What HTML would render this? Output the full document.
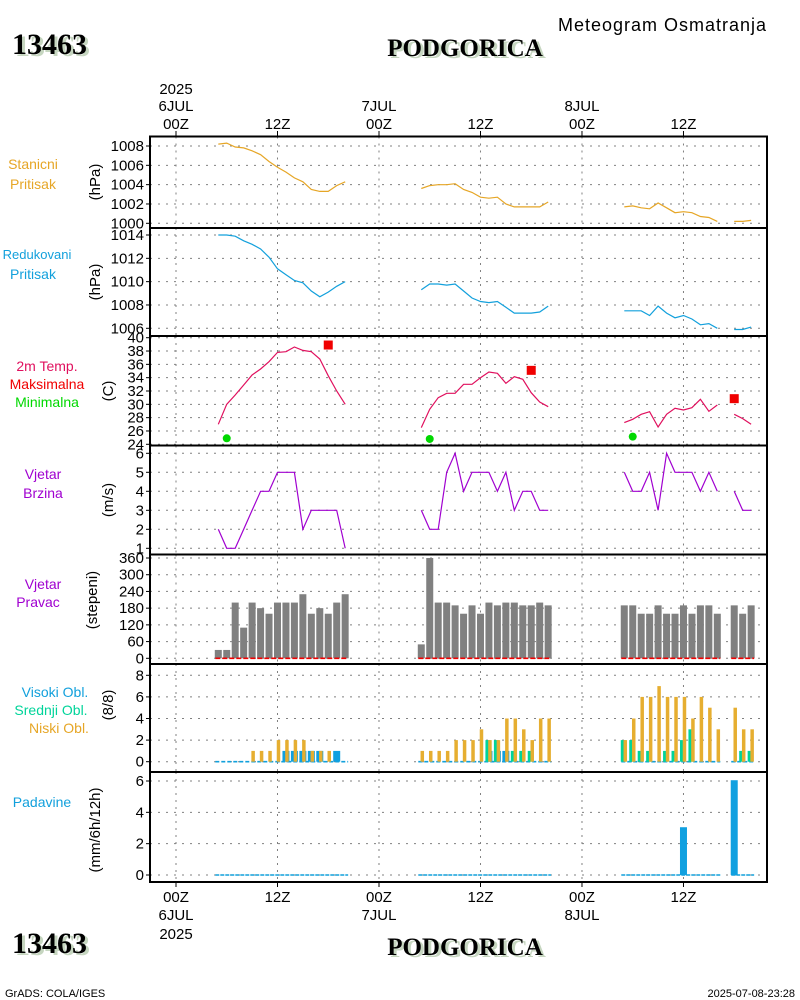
<!DOCTYPE html>
<html><head><meta charset="utf-8"><style>
html,body{margin:0;padding:0;background:#fff;}
svg{display:block;font-family:"Liberation Sans",sans-serif;}
</style></head><body>
<svg id="chart" width="800" height="1000" viewBox="0 0 800 1000" xmlns="http://www.w3.org/2000/svg">
<g>
<text x="15" y="56" font-family="Liberation Serif" font-weight="bold" font-size="30" fill="#c6d6c0">13463</text>
<text x="12" y="54" font-family="Liberation Serif" font-weight="bold" font-size="30" fill="#000">13463</text>
<text x="468" y="58" text-anchor="middle" font-family="Liberation Serif" font-weight="bold" font-size="25" fill="#c6d6c0">PODGORICA</text>
<text x="465" y="56" text-anchor="middle" font-family="Liberation Serif" font-weight="bold" font-size="25" fill="#000">PODGORICA</text>
<text x="558" y="31" font-size="18" letter-spacing="1" fill="#000">Meteogram Osmatranja</text>
</g>
<g>
<text x="15" y="955" font-family="Liberation Serif" font-weight="bold" font-size="30" fill="#c6d6c0">13463</text>
<text x="12" y="953" font-family="Liberation Serif" font-weight="bold" font-size="30" fill="#000">13463</text>
<text x="468" y="957" text-anchor="middle" font-family="Liberation Serif" font-weight="bold" font-size="25" fill="#c6d6c0">PODGORICA</text>
<text x="465" y="955" text-anchor="middle" font-family="Liberation Serif" font-weight="bold" font-size="25" fill="#000">PODGORICA</text>
<text x="5" y="997" font-size="11" fill="#000">GrADS: COLA/IGES</text>
<text x="795" y="997" text-anchor="end" font-size="11" fill="#000">2025-07-08-23:28</text>
</g>
<g id="grid"></g>
<g id="marks"></g>
<g id="frames"></g>
<g id="labels"></g>
</svg>
<script>
const hours = [5,6,7,8,9,10,11,12,13,14,15,16,17,18,19,20,
 29,30,31,32,33,34,35,36,37,38,39,40,41,42,43,44,
 53,54,55,56,57,58,59,60,61,62,63,64,65,66,67,68];
const stationPressure = [1008.2,1008.3,1007.9,1007.8,1007.5,1007.1,1006.4,1005.8,1005.3,1004.7,1004.3,1003.5,1003.3,1003.3,1003.9,1004.3,
 1003.6,1003.9,1004.0,1004.0,1004.1,1003.5,1003.2,1002.7,1002.6,1002.7,1002.0,1001.7,1001.7,1001.7,1001.7,1002.2,
 1001.7,1001.8,1001.6,1001.5,1002.1,1001.6,1001.1,1001.2,1001.1,1000.7,1000.6,1000.2,null,1000.2,1000.2,1000.3];
const reducedPressure = [1014.0,1014.0,1013.9,1013.5,1013.2,1012.8,1012.1,1011.1,1010.6,1010.1,1009.9,1009.2,1008.7,1009.1,1009.6,1010.0,
 1009.3,1009.8,1009.8,1009.7,1009.8,1009.2,1008.6,1008.3,1008.2,1008.3,1007.8,1007.3,1007.3,1007.3,1007.4,1007.9,
 1007.5,1007.5,1007.5,1007.1,1007.9,1007.3,1006.9,1007.1,1006.8,1006.3,1006.4,1006.0,null,1005.9,1005.9,1006.1];
const temperature = [27,30,31.4,32.9,34.4,35.3,36.4,37.8,37.9,38.6,38.1,37.9,36.8,34.3,32,30,
 26.5,29.25,31,31.65,31.65,33,33,34,34.85,34.65,33.15,34.15,33.75,31.75,30.35,29.65,
 27.25,27.75,28.5,28.9,26.6,28.5,29.4,29.15,29.5,30.75,28.95,29.9,null,28.5,27.85,27];
const maxTempHours = [18,42,66];
const maxTempValues = [38.9,35.1,30.85];
const minTempHours = [6,30,54];
const minTempValues = [24.9,24.8,25.15];
const windSpeed = [2,1,1,2,3,4,4,5,5,5,2,3,3,3,3,1,
 3,2,2,5,6,4,5,5,5,4,5,3,4,4,3,3,
 5,4,4,5,3,6,5,5,5,4,5,4,null,4,3,3];
const windDirection = [30,30,200,110,200,180,160,200,200,200,230,160,180,160,200,230,
 50,360,200,200,190,160,190,160,200,190,200,200,190,190,200,190,
 190,190,160,160,190,160,160,190,160,190,190,160,null,190,160,190];
const highCloud = [0,0,0,0,0,0,0,0,1,1,1,1,1,0,1,0,
 0,0,0,0,0,0,0,0,1,1,1,0,0,0,0,0,
 0,0,0,0,0,0,0,0,0,0,0,0,null,0,0,0];
const midCloud = [0,0,0,0,0,0,0,0,0,0,0,0,0,0,0,0,
 0,0,0,0,0,0,0,0,2,2,0,1,1,1,0,0,
 2,2,1,1,0,1,1,2,3,0,0,0,null,0,1,1];
const lowCloud = [0,0,0,0,1,1,1,2,2,2,2,1,1,1,0,0,
 1,1,1,1,2,2,2,3,2,2,4,4,3,2,4,4,
 2,4,6,6,7,6,6,6,4,6,5,3,null,5,3,3];
const precipitation = [0,0,0,0,0,0,0,0,0,0,0,0,0,0,0,0,
 0,0,0,0,0,0,0,0,0,0,0,0,0,0,0,0,
 0,0,0,0,0,0,0,3.05,0,0,0,0,null,6.05,0,0];
const timeTickHours = [0,12,24,36,48,60];
const timeTickLabels = ["00Z","12Z","00Z","12Z","00Z","12Z"];
const dateLabels = ["6JUL","","7JUL","","8JUL",""];
const pressTicks1 = [1000,1002,1004,1006,1008];
const pressTicks2 = [1006,1008,1010,1012,1014];
const tempTicks = [24,26,28,30,32,34,36,38,40];
const windTicks = [1,2,3,4,5,6];
const dirTicks = [0,60,120,180,240,300,360];
const cloudTicks = [0,2,4,6,8];
const precipTicks = [0,2,4,6];

const NS="http://www.w3.org/2000/svg";
const L=150,R=767;
function x(t){return 176+t*8.458;}
function lin(v0,y0,v1,y1){return v=>y0+(v-v0)*(y1-y0)/(v1-v0);}
const yP1=lin(1000,223.3,1008,146);
const yP2=lin(1006,328.3,1014,235);
const yT=lin(24,444.3,40,337.7);
const yW=lin(1,548.3,6,453.3);
const yD=lin(0,658.3,360,558);
const yC=lin(0,761.7,8,675.3);
const yR=lin(0,875,6,781);
const panels=[[136.5,228],[228,336],[336,445.5],[445.5,554.5],[554.5,664],[664,772],[772,882]];
function mk(tag,attrs,parent){const e=document.createElementNS(NS,tag);for(const k in attrs)e.setAttribute(k,attrs[k]);parent.appendChild(e);return e;}
const grid=document.getElementById('grid'),marks=document.getElementById('marks'),frames=document.getElementById('frames'),labels=document.getElementById('labels');

panels.forEach(p=>{timeTickHours.forEach(h=>{const l=mk('line',{x1:x(h),x2:x(h),y1:p[0],y2:p[1],stroke:'#808080','stroke-width':1,'stroke-dasharray':'2,5'},grid);

});});

function yAxis(ticks,ys,name){ticks.forEach(v=>{const y=ys(v);
 const g=mk('line',{x1:L,x2:R,y1:y,y2:y,stroke:'#808080','stroke-width':1,'stroke-dasharray':'2,6'},grid);
 
 
 mk('line',{x1:146,x2:L,y1:y,y2:y,stroke:'#000','stroke-width':1},frames);
 const t=mk('text',{x:144,y:y+5,'text-anchor':'end','font-size':15,fill:'#000'},labels);t.textContent=v;
 
 });}
yAxis(pressTicks1,yP1,'station-pressure');
yAxis(pressTicks2,yP2,'reduced-pressure');
yAxis(tempTicks,yT,'temperature');
yAxis(windTicks,yW,'wind-speed');
yAxis(dirTicks,yD,'wind-direction');
yAxis(cloudTicks,yC,'cloud');
yAxis(precipTicks,yR,'precipitation');

function segments(vals){const segs=[];let cur=[];for(let i=0;i<hours.length;i++){const v=vals[i];
 if(v===null||(cur.length&&hours[i]-hours[i-1]>1)){if(cur.length)segs.push(cur);cur=[];}
 if(v!==null)cur.push(i);}if(cur.length)segs.push(cur);return segs;}
function drawLine(vals,ys,color,name){segments(vals).forEach(s=>{const pts=s.map(i=>x(hours[i]).toFixed(1)+','+ys(vals[i]).toFixed(1)).join(' ');
 const p=mk('polyline',{points:pts,fill:'none',stroke:color,'stroke-width':1.2},marks);
 
 });}
function drawBars(vals,ys,w,dx,color,name){for(let i=0;i<hours.length;i++){const v=vals[i];if(v===null||v<=0)continue;
 const y0=ys(0),y1=ys(v);const r=mk('rect',{x:x(hours[i])-w/2+dx,y:y1,width:w,height:y0-y1,fill:color},marks);
 
 }}
function baseline(vals,ys,color,name,dash){segments(vals).forEach(s=>{const l=mk('line',{x1:x(hours[s[0]])-3,x2:x(hours[s[s.length-1]])+3,y1:ys(0),y2:ys(0),stroke:color,'stroke-width':1.6,'stroke-dasharray':dash},marks);
 
 });}

drawLine(stationPressure,yP1,'#e6a626','station-pressure-line');
drawLine(reducedPressure,yP2,'#12a0dc','reduced-pressure-line');
drawLine(temperature,yT,'#e0105e','temperature-line');
maxTempHours.forEach((h,i)=>{const r=mk('rect',{x:x(h)-4.5,y:yT(maxTempValues[i])-4.5,width:9,height:9,fill:'#f00000'},marks);
 
 });
minTempHours.forEach((h,i)=>{const c=mk('circle',{cx:x(h),cy:yT(minTempValues[i]),r:4,fill:'#00d800'},marks);
 
 });
drawLine(windSpeed,yW,'#a000d0','wind-speed-line');
drawBars(windDirection,yD,7,0,'#808080','wind-direction-bar');
baseline(windDirection,yD,'#f00000','wind-direction-baseline','5,2');
baseline(lowCloud,yC,'#12a0dc','cloud-baseline','4,2');
drawBars(highCloud,yC,7,0,'#10a0e0','high-cloud-bar');
drawBars(midCloud,yC,5,-1,'#00d49a','mid-cloud-bar');
drawBars(lowCloud,yC,3.5,1,'#e6ae30','low-cloud-bar');
baseline(precipitation,yR,'#12a0dc','precipitation-baseline','4,1');
drawBars(precipitation,yR,7,0,'#10a0e0','precipitation-bar');

panels.forEach((p,i)=>{const r=mk('rect',{x:L,y:p[0],width:R-L,height:p[1]-p[0],fill:'none',stroke:'#000','stroke-width':2},frames);
 
 });
timeTickHours.forEach((h,i)=>{mk('line',{x1:x(h),x2:x(h),y1:131,y2:136,stroke:'#000'},frames);mk('line',{x1:x(h),x2:x(h),y1:882,y2:887,stroke:'#000'},frames);
 const t=mk('text',{x:x(h),y:129,'text-anchor':'middle','font-size':15},labels);t.textContent=timeTickLabels[i];
 
 
 const b=mk('text',{x:x(h),y:902,'text-anchor':'middle','font-size':15},labels);b.textContent=timeTickLabels[i];
 
 
 if(dateLabels[i]){const d=mk('text',{x:x(h),y:111,'text-anchor':'middle','font-size':15},labels);d.textContent=dateLabels[i];
  
  
  const d2=mk('text',{x:x(h),y:920,'text-anchor':'middle','font-size':15},labels);d2.textContent=dateLabels[i];
  
  }});
[[x(0),94],[x(0),939]].forEach(p=>{const t=mk('text',{x:p[0],y:p[1],'text-anchor':'middle','font-size':15},labels);t.textContent='2025';
 
 });

const sideLabels=[["Stanicni",33,164,'#e6a626'],["Pritisak",33,184,'#e6a626'],["Redukovani",37,254,'#12a0dc'],["Pritisak",33,274,'#12a0dc'],
 ["2m Temp.",47,366,'#e0105e'],["Maksimalna",47,384,'#f00000'],["Minimalna",47,402,'#00d800'],["Vjetar",43,474,'#a000d0'],["Brzina",43,493,'#a000d0'],
 ["Vjetar",43,584,'#a000d0'],["Pravac",38,602,'#a000d0'],["Visoki Obl.",55,692,'#12a0dc'],["Srednji Obl.",51,710,'#00d49a'],["Niski Obl.",59,728,'#e6a626'],["Padavine",42,802,'#12a0dc']];
sideLabels.forEach(s=>{const t=mk('text',{x:s[1],y:s[2]+5,'text-anchor':'middle','font-size':s[0]==="Redukovani"?13:14,fill:s[3]},labels);t.textContent=s[0];
 
 });
const units=[["(hPa)",100,182],["(hPa)",100,282],["(C)",113,391],["(m/s)",113,500],["(stepeni)",97,600],["(8/8)",113,705],["(mm/6h/12h)",100,830]];
units.forEach(u=>{const t=mk('text',{x:u[1],y:u[2],'text-anchor':'middle','font-size':15,transform:'rotate(-90 '+u[1]+' '+u[2]+')'},labels);t.textContent=u[0];
 
 });
</script>
</body></html>
